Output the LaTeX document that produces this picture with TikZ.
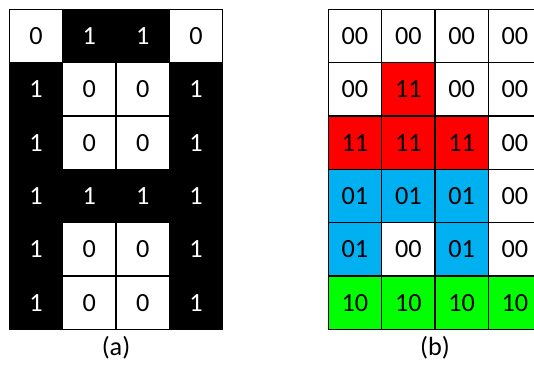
\documentclass[tikz,border=0pt]{standalone}
\usepackage{fontspec}
\setmainfont{Carlito}
\usepackage{xcolor}
\definecolor{codered}{RGB}{255,0,0}
\definecolor{codeblue}{RGB}{0,176,240}
\definecolor{codegreen}{RGB}{0,255,0}
\tikzset{
  cell/.style={draw=black,line width=0.6pt,minimum size=1cm,inner sep=0pt,outer sep=0pt,font=\fontsize{14}{16}\selectfont},
  c0/.style={fill=white},
  c1/.style={fill=black,text=white},
  c00/.style={fill=white},
  c11/.style={fill=codered},
  c01/.style={fill=codeblue},
  c10/.style={fill=codegreen}
}
\begin{document}
\begin{tikzpicture}[x=1cm,y=-1cm]
\useasboundingbox (0,0) rectangle (10.0125,6.919);
\clip (0,0) rectangle (10.0125,6.919);
\foreach\row [count=\r] in {{0,1,1,0},{1,0,0,1},{1,0,0,1},{1,1,1,1},{1,0,0,1},{1,0,0,1}}{
	\foreach\v [count=\c] in \row{
		\edef\sty{c\v}
		\node[cell,\sty] (a-\r-\c) at (\c-0.325,\r-0.325) {\v};
	}
}
\foreach\row [count=\r] in {{00,00,00,00},{00,11,00,00},{11,11,11,00},{01,01,01,00},{01,00,01,00},{10,10,10,10}}{
	\foreach\v [count=\c] in \row{
		\edef\sty{c\v}
		\node[cell,\sty] (b-\r-\c) at (\c+5.656,\r-0.325) {\v};
	}
}
\node[font=\fontsize{14}{16}\selectfont] (lab-a) at (2.175,6.525) {(a)};
\node[font=\fontsize{14}{16}\selectfont] (lab-b) at (8.156,6.525) {(b)};
\end{tikzpicture}
\end{document}
